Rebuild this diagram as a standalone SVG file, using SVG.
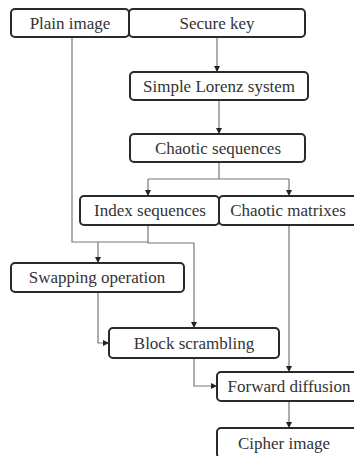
<svg xmlns="http://www.w3.org/2000/svg" width="354" height="456" viewBox="0 0 354 456">
<style>
.box{fill:#fff;stroke:#2a2a2a;stroke-width:2}
.t{fill:#333;text-anchor:middle;font-size:17px;font-family:'Liberation Serif','Times New Roman',serif}
.c{fill:none;stroke:#777;stroke-width:1.2}
</style>
<defs>
<marker id="a" viewBox="0 0 8 8" refX="8" refY="4" markerWidth="6" markerHeight="6" orient="auto" markerUnits="userSpaceOnUse">
<path d="M0,0 L8,4 L0,8 z" fill="#222"/>
</marker>
</defs>
<rect width="354" height="456" fill="#fff"/>
<g id="connectors">
<path class="c" d="M72,37 V242 H148"/>
<path class="c" d="M217,37 V72" marker-end="url(#a)"/>
<path class="c" d="M219,100 V134" marker-end="url(#a)"/>
<path class="c" d="M219,162 V179"/>
<path class="c" d="M148,179 H289"/>
<path class="c" d="M148,179 V196" marker-end="url(#a)"/>
<path class="c" d="M289,179 V196" marker-end="url(#a)"/>
<path class="c" d="M148,225 V243 H194 V328" marker-end="url(#a)"/>
<path class="c" d="M98,242 V263" marker-end="url(#a)"/>
<path class="c" d="M98,292 V343 H109" marker-end="url(#a)"/>
<path class="c" d="M289,225 V372" marker-end="url(#a)"/>
<path class="c" d="M194,358 V386 H217" marker-end="url(#a)"/>
<path class="c" d="M289,401 V428" marker-end="url(#a)"/>
</g>
<g id="plain-image"><rect class="box" x="11" y="9" width="118" height="28" rx="4"/><text class="t" font-family="Liberation Serif" x="70" y="29">Plain image</text></g>
<g id="secure-key"><rect class="box" x="129" y="9" width="176" height="28" rx="4"/><text class="t" font-family="Liberation Serif" x="217" y="29">Secure key</text></g>
<g id="lorenz"><rect class="box" x="130" y="72" width="178" height="28" rx="4"/><text class="t" font-family="Liberation Serif" x="219" y="92">Simple Lorenz system</text></g>
<g id="chaotic-sequences"><rect class="box" x="130" y="134" width="175" height="28" rx="4"/><text class="t" font-family="Liberation Serif" x="218" y="154">Chaotic sequences</text></g>
<g id="index-sequences"><rect class="box" x="80" y="196" width="139" height="29" rx="4"/><text class="t" font-family="Liberation Serif" x="150" y="216">Index sequences</text></g>
<g id="chaotic-matrixes"><rect class="box" x="219" y="196" width="140" height="29" rx="4"/><text class="t" font-family="Liberation Serif" x="288" y="216">Chaotic matrixes</text></g>
<g id="swapping"><rect class="box" x="11" y="263" width="173" height="29" rx="4"/><text class="t" font-family="Liberation Serif" x="97" y="283">Swapping operation</text></g>
<g id="block-scrambling"><rect class="box" x="109" y="328" width="170" height="30" rx="4"/><text class="t" font-family="Liberation Serif" x="194" y="349">Block scrambling</text></g>
<g id="forward-diffusion"><rect class="box" x="217" y="372" width="143" height="29" rx="4"/><text class="t" font-family="Liberation Serif" x="289" y="392">Forward diffusion</text></g>
<g id="cipher-image"><rect class="box" x="217" y="428" width="143" height="30" rx="4"/><text class="t" font-family="Liberation Serif" x="284" y="449">Cipher image</text></g>
</svg>
